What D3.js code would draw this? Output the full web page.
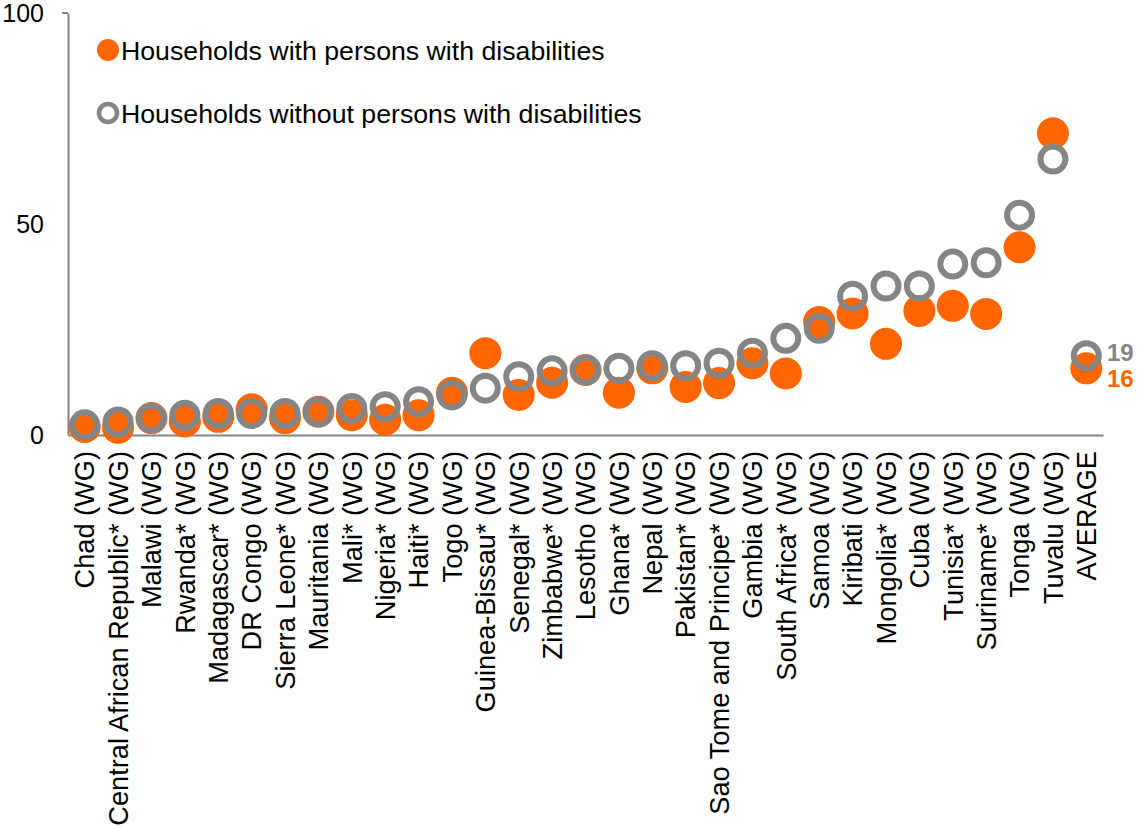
<!DOCTYPE html>
<html>
<head>
<meta charset="utf-8">
<script src="https://cdn.jsdelivr.net/npm/d3@7"></script>
<style>
  html, body { margin: 0; padding: 0; background: #fff; }
  svg { display: block; font-family: "Liberation Sans", Arial, sans-serif; }
</style>
</head>
<body>
<svg id="chart" width="1138" height="830"></svg>
<script>
const categories = [
  "Chad (WG)", "Central African Republic* (WG)", "Malawi (WG)", "Rwanda* (WG)",
  "Madagascar* (WG)", "DR Congo (WG)", "Sierra Leone* (WG)", "Mauritania (WG)",
  "Mali* (WG)", "Nigeria* (WG)", "Haiti* (WG)", "Togo (WG)", "Guinea-Bissau* (WG)",
  "Senegal* (WG)", "Zimbabwe* (WG)", "Lesotho (WG)", "Ghana* (WG)", "Nepal (WG)",
  "Pakistan* (WG)", "Sao Tome and Principe* (WG)", "Gambia (WG)", "South Africa* (WG)",
  "Samoa (WG)", "Kiribati (WG)", "Mongolia* (WG)", "Cuba (WG)", "Tunisia* (WG)",
  "Suriname* (WG)", "Tonga (WG)", "Tuvalu (WG)", "AVERAGE"
];
const withDisab = [
  1.9, 1.7, 4.0, 3.2, 4.3, 6.1, 4.0, 5.5, 4.7, 3.6, 4.7, 10.0, 19.4, 9.5, 12.4,
  15.4, 10.0, 15.8, 11.4, 12.3, 17.0, 14.6, 26.8, 28.8, 21.6, 29.4, 30.6, 28.7,
  44.5, 71.5, 15.8
];
const withoutDisab = [
  2.4, 3.1, 4.0, 4.7, 5.1, 5.1, 5.1, 5.5, 6.3, 6.7, 7.9, 9.5, 11.1, 13.8, 15.2,
  15.4, 15.8, 16.4, 16.4, 17.0, 19.4, 22.9, 25.3, 32.9, 35.3, 35.3, 40.5, 40.8,
  52.1, 65.4, 18.8
];
const yTicks = [0, 50, 100];
const seriesNames = ["Households with persons with disabilities", "Households without persons with disabilities"];
const avgLabels = ["16", "19"];

const ORANGE = "#ff6600";
const GREY = "#858585";
const svg = d3.select("#chart");

const x = d3.scaleBand().domain(categories).range([68, 1103]);
const y = d3.scaleLinear().domain([0, 100]).range([435, 13]);

// axes
const yAxis = d3.axisLeft(y).tickValues(yTicks).tickSize(0).tickPadding(24);
const gy = svg.append("g").attr("transform", "translate(68,0)").call(yAxis);
gy.select(".domain").attr("stroke", GREY).attr("stroke-width", 2);
gy.selectAll("text").attr("font-size", 25).attr("fill", "#000")
  .attr("font-family", "Liberation Sans, Arial, sans-serif");
svg.append("line").attr("x1", 62).attr("x2", 68).attr("y1", y(100)).attr("y2", y(100))
  .attr("stroke", GREY).attr("stroke-width", 2);

const xAxis = d3.axisBottom(x).tickSize(0).tickPadding(0);
const gx = svg.append("g").attr("transform", "translate(0,435)").call(xAxis);
gx.select(".domain").attr("stroke", GREY).attr("stroke-width", 2);
gx.selectAll("text")
  .attr("font-size", 27.2).attr("fill", "#000")
  .attr("font-family", "Liberation Sans, Arial, sans-serif")
  .attr("transform", "rotate(-90)")
  .attr("text-anchor", "end")
  .attr("x", -16).attr("y", 0).attr("dy", "0.36em");

// points
const cx = d => x(d) + x.bandwidth() / 2;
svg.append("g").selectAll("circle").data(categories).join("circle")
  .attr("cx", cx).attr("cy", (d, i) => y(withDisab[i])).attr("r", 16)
  .attr("fill", ORANGE);
svg.append("g").selectAll("circle").data(categories).join("circle")
  .attr("cx", cx).attr("cy", (d, i) => y(withoutDisab[i])).attr("r", 12.5)
  .attr("fill", "none").attr("stroke", GREY).attr("stroke-width", 6);

// average labels
const last = categories.length - 1;
svg.append("text").attr("x", 1107).attr("y", y(withoutDisab[last]) - 3).attr("dy", "0.36em")
  .attr("font-size", 24).attr("font-weight", "bold").attr("fill", GREY).text(avgLabels[1]);
svg.append("text").attr("x", 1107).attr("y", y(withDisab[last]) + 10).attr("dy", "0.36em")
  .attr("font-size", 24).attr("font-weight", "bold").attr("fill", ORANGE).text(avgLabels[0]);

// legend
const lg = svg.append("g");
lg.append("circle").attr("cx", 108).attr("cy", 50).attr("r", 11).attr("fill", ORANGE);
lg.append("text").attr("x", 121).attr("y", 50).attr("dy", "0.36em").attr("font-size", 26.7)
  .attr("fill", "#000").text(seriesNames[0]);
lg.append("circle").attr("cx", 108).attr("cy", 113).attr("r", 9).attr("fill", "none")
  .attr("stroke", GREY).attr("stroke-width", 4.5);
lg.append("text").attr("x", 121).attr("y", 113).attr("dy", "0.36em").attr("font-size", 26.7)
  .attr("fill", "#000").text(seriesNames[1]);
</script>
</body>
</html>
